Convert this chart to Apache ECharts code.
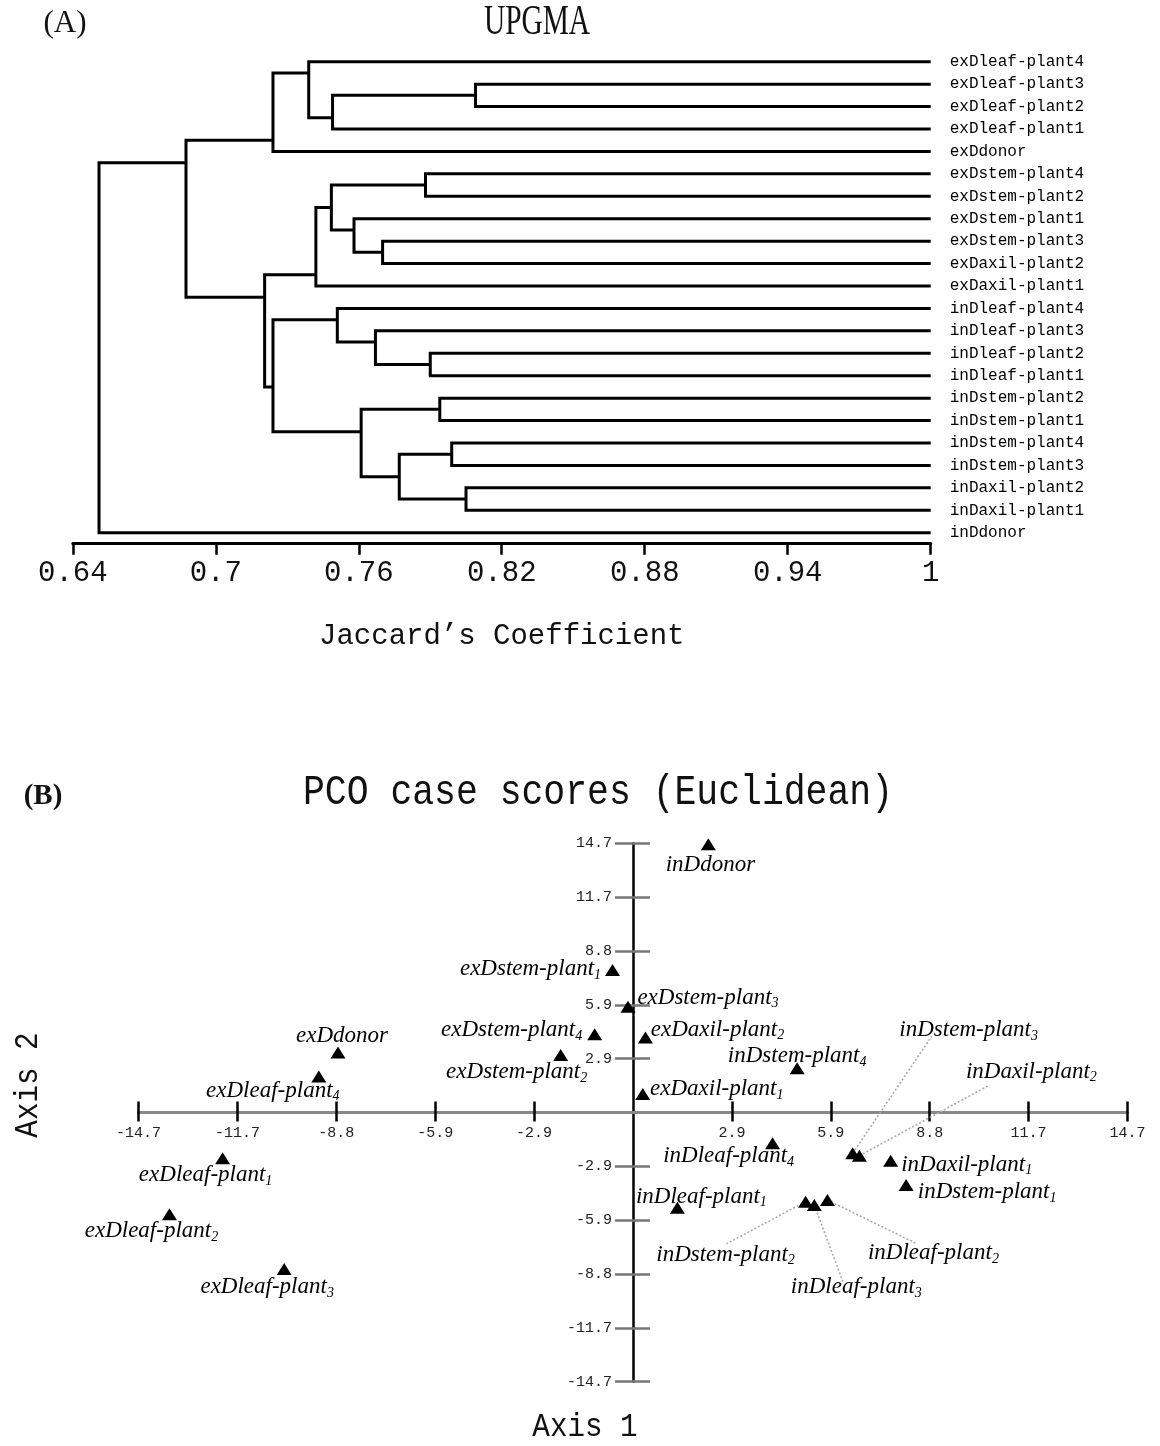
<!DOCTYPE html>
<html><head><meta charset="utf-8">
<script src="https://cdn.jsdelivr.net/npm/echarts@6/dist/echarts.min.js"></script>
<style>html,body{margin:0;padding:0;background:#fff}#c{width:1160px;height:1446px}</style>
</head><body><div id="c"></div>
<script>
// ---------------- DATA ----------------
// (A) UPGMA dendrogram: leaves in display order
const leafNames = [
  'exDleaf-plant4','exDleaf-plant3','exDleaf-plant2','exDleaf-plant1','exDdonor',
  'exDstem-plant4','exDstem-plant2','exDstem-plant1','exDstem-plant3','exDaxil-plant2',
  'exDaxil-plant1','inDleaf-plant4','inDleaf-plant3','inDleaf-plant2','inDleaf-plant1',
  'inDstem-plant2','inDstem-plant1','inDstem-plant4','inDstem-plant3','inDaxil-plant2',
  'inDaxil-plant1','inDdonor'
];
// merges: [childA, childB, Jaccard similarity]; node ids 0-21 are leaves, 22+ are merges in order
const merges = [
  [1, 2, 0.809],   // 22
  [19, 20, 0.805], // 23
  [17, 18, 0.799], // 24
  [15, 16, 0.794], // 25
  [13, 14, 0.790], // 26
  [5, 6, 0.788],   // 27
  [24, 23, 0.777], // 28
  [8, 9, 0.770],   // 29
  [12, 26, 0.767], // 30
  [25, 28, 0.761], // 31
  [7, 29, 0.758],  // 32
  [11, 30, 0.751], // 33
  [22, 3, 0.749],  // 34
  [27, 32, 0.7485],// 35
  [35, 10, 0.742], // 36
  [0, 34, 0.739],  // 37
  [37, 4, 0.724],  // 38
  [33, 31, 0.724], // 39
  [36, 39, 0.7205],// 40
  [38, 40, 0.6875],// 41
  [41, 21, 0.651]  // 42
];
const jaccardTicks = [0.64, 0.70, 0.76, 0.82, 0.88, 0.94, 1.00];
const jaccardTickLabels = ['0.64', '0.7', '0.76', '0.82', '0.88', '0.94', '1'];

// (B) PCO case scores
const pcoNames = [
  'inDdonor','exDstem-plant1','exDstem-plant3','exDstem-plant4','exDaxil-plant2',
  'exDstem-plant2','exDdonor','exDleaf-plant4','exDaxil-plant1','inDstem-plant4',
  'inDstem-plant3','inDaxil-plant2','inDleaf-plant4','inDaxil-plant1','inDstem-plant1',
  'inDleaf-plant1','inDstem-plant2','inDleaf-plant3','inDleaf-plant2','exDleaf-plant1',
  'exDleaf-plant2','exDleaf-plant3'
];
const axis1Scores = [2.24, -0.61, -0.15, -1.14, 0.37, -2.15, -8.77, -9.34, 0.29, 4.88,
  6.53, 6.73, 4.15, 7.66, 8.12, 1.32, 5.13, 5.39, 5.78, -12.2, -13.78, -10.37];
const axis2Scores = [14.65, 7.78, 5.78, 4.27, 4.09, 3.14, 3.28, 1.96, 1.01, 2.41,
  -2.23, -2.36, -1.68, -2.63, -3.96, -5.20, -4.87, -5.05, -4.78, -2.50, -5.56, -8.55];
const pcoTicks = [-14.7, -11.76, -8.82, -5.88, -2.94, 2.94, 5.88, 8.82, 11.76, 14.7];
const pcoTickLabels = ['-14.7','-11.7','-8.8','-5.9','-2.9','2.9','5.9','8.8','11.7','14.7'];

// ---------------- STYLE CONFIG (label placement, px) ----------------
const labelOffsets = {
  'inDdonor':[2,21],'exDstem-plant1':[-82,-1],'exDstem-plant3':[80,-9],'exDstem-plant4':[-83,-4],
  'exDaxil-plant2':[72,-8],'exDstem-plant2':[-44,17],'exDdonor':[4,-16],'exDleaf-plant4':[-46,14],
  'exDaxil-plant1':[74,-5],'inDstem-plant4':[0,-12],'inDstem-plant3':[116,-123],'inDaxil-plant2':[172,-84],
  'inDleaf-plant4':[-44,13],'inDaxil-plant1':[76,4],'inDstem-plant1':[81,7],'inDleaf-plant1':[24,-11],
  'inDstem-plant2':[-80,53],'inDleaf-plant3':[42,82],'inDleaf-plant2':[106,53],'exDleaf-plant1':[-17,17],
  'exDleaf-plant2':[-18,17],'exDleaf-plant3':[-17,18]
};
const leaderEnds = {
  'inDstem-plant3':[79,-117],'inDaxil-plant2':[129,-70],'inDstem-plant2':[-79,42],
  'inDleaf-plant3':[29,78],'inDleaf-plant2':[88,43]
};

// ---------------- TREE LAYOUT ----------------
const nLeaf = leafNames.length;
const nodeX = [], nodeRow = [], firstLeaf = [], lastLeaf = [];
for (let i = 0; i < nLeaf; i++) { nodeX[i] = 1; nodeRow[i] = i; firstLeaf[i] = i; lastLeaf[i] = i; }
merges.forEach((m, k) => {
  const id = nLeaf + k, a = m[0], b = m[1];
  nodeX[id] = m[2];
  firstLeaf[id] = Math.min(firstLeaf[a], firstLeaf[b]);
  lastLeaf[id] = Math.max(lastLeaf[a], lastLeaf[b]);
  const top = firstLeaf[a] < firstLeaf[b] ? a : b;
  const bot = top === a ? b : a;
  nodeRow[id] = (lastLeaf[top] + firstLeaf[bot]) / 2;
});

const MONO = 'Liberation Mono';
const SERIF = 'Liberation Serif';
function pcoLabel(v) {
  const i = pcoTicks.findIndex(t => Math.abs(t - v) < 1e-6);
  return i >= 0 ? pcoTickLabels[i] : '';
}
function jacLabel(v) {
  const i = jaccardTicks.findIndex(t => Math.abs(t - v) < 1e-6);
  return i >= 0 ? jaccardTickLabels[i] : '';
}

// PCO grid geometry; axes cross at the origin (placed with offsets)
const PCO_GRID = {left: 138.5, right: 32.5, top: 843.3, height: 538.4};
const PCO_MIN = -14.7, PCO_MAX = 14.7;
const pcoW = 1160 - PCO_GRID.left - PCO_GRID.right;
const xZeroFromBottom = PCO_GRID.height * (0 - PCO_MIN) / (PCO_MAX - PCO_MIN);
const xZeroFromTop = PCO_GRID.height - xZeroFromBottom;
const yZeroFromLeft = pcoW * (0 - PCO_MIN) / (PCO_MAX - PCO_MIN);
const yZeroFromRight = pcoW - yZeroFromLeft;

const chart = echarts.init(document.getElementById('c'), null, {renderer: 'canvas'});
const option = {
  backgroundColor: '#fff',
  animation: false,
  grid: [
    {left: 72.8, right: 229.3, top: 61.7, height: 471, containLabel: false, outerBoundsMode: 'none'},
    Object.assign({containLabel: false, outerBoundsMode: 'none'}, PCO_GRID)
  ],
  xAxis: [
    { gridIndex: 0, type: 'value', min: 0.64, max: 1, position: 'bottom', offset: 11,
      axisLine: {show: true, onZero: false, lineStyle: {color: '#000', width: 3}},
      axisTick: {show: true, customValues: jaccardTicks, length: 11, inside: false, lineStyle: {color: '#000', width: 2.5}},
      axisLabel: {customValues: jaccardTicks, formatter: jacLabel, margin: 15, color: '#111', fontFamily: MONO, fontSize: 29},
      splitLine: {show: false},
      name: 'Jaccard\u2019s Coefficient', nameLocation: 'middle', nameGap: 78, nameMoveOverlap: false,
      nameTextStyle: {color: '#111', fontFamily: MONO, fontSize: 29}
    },
    { gridIndex: 1, type: 'value', min: PCO_MIN, max: PCO_MAX, position: 'bottom', offset: -xZeroFromBottom,
      axisLine: {show: true, onZero: false, lineStyle: {color: '#888', width: 3}},
      axisTick: {show: true, customValues: pcoTicks, length: 9, inside: false, lineStyle: {color: '#000', width: 2.5}},
      axisLabel: {customValues: pcoTicks, formatter: pcoLabel, margin: 13, color: '#222', fontFamily: MONO, fontSize: 15},
      splitLine: {show: false}
    },
    { gridIndex: 1, type: 'value', min: PCO_MIN, max: PCO_MAX, position: 'top', offset: -xZeroFromTop,
      axisLine: {show: false, onZero: false},
      axisTick: {show: true, customValues: pcoTicks, length: 11, inside: false, lineStyle: {color: '#000', width: 2.5}},
      axisLabel: {show: false}, splitLine: {show: false}
    }
  ],
  yAxis: [
    { gridIndex: 0, type: 'value', min: 0, max: 21, inverse: true, show: false },
    { gridIndex: 0, type: 'category', data: leafNames, inverse: true, boundaryGap: false, position: 'right',
      axisLine: {show: false}, axisTick: {show: false},
      axisLabel: {margin: 19, color: '#000', fontFamily: MONO, fontSize: 16, interval: 0}
    },
    { gridIndex: 1, type: 'value', min: PCO_MIN, max: PCO_MAX, position: 'left', offset: -yZeroFromLeft,
      axisLine: {show: true, onZero: false, lineStyle: {color: '#000', width: 2.5}},
      axisTick: {show: true, customValues: pcoTicks, length: 18, inside: false, lineStyle: {color: '#777', width: 2.5}},
      axisLabel: {customValues: pcoTicks, formatter: pcoLabel, margin: 21, color: '#222', fontFamily: MONO, fontSize: 15},
      splitLine: {show: false}
    },
    { gridIndex: 1, type: 'value', min: PCO_MIN, max: PCO_MAX, position: 'right', offset: -yZeroFromRight,
      axisLine: {show: false, onZero: false},
      axisTick: {show: true, customValues: pcoTicks, length: 17, inside: false, lineStyle: {color: '#777', width: 2.5}},
      axisLabel: {show: false}, splitLine: {show: false}
    }
  ],
  series: [
    { type: 'custom', name: 'UPGMA', xAxisIndex: 0, yAxisIndex: 0, clip: false,
      data: merges.map((m, k) => [m[2], nodeRow[nLeaf + k]]),
      renderItem: (params, api) => {
        const m = merges[params.dataIndex], a = m[0], b = m[1], h = m[2];
        const pts = [
          api.coord([nodeX[a], nodeRow[a]]), api.coord([h, nodeRow[a]]),
          api.coord([h, nodeRow[b]]), api.coord([nodeX[b], nodeRow[b]])
        ];
        return {type: 'polyline', shape: {points: pts},
          style: {stroke: '#000', lineWidth: 3, fill: null, lineJoin: 'miter', lineCap: 'butt'}};
      }
    },
    { type: 'custom', name: 'leaders', xAxisIndex: 1, yAxisIndex: 2, z: 1, clip: false,
      data: Object.keys(leaderEnds).map(n => { const i = pcoNames.indexOf(n); return {name: n, value: [axis1Scores[i], axis2Scores[i]]}; }),
      renderItem: (params, api) => {
        const p = api.coord([api.value(0), api.value(1)]);
        const e = leaderEnds[Object.keys(leaderEnds)[params.dataIndex]];
        return {type: 'line', shape: {x1: p[0], y1: p[1], x2: p[0] + e[0], y2: p[1] + e[1]},
          style: {stroke: '#aaa', lineWidth: 1.6, lineDash: [2, 2]}};
      }
    },
    { type: 'scatter', name: 'PCO', xAxisIndex: 1, yAxisIndex: 2, z: 3,
      symbol: 'triangle', symbolSize: [15, 12],
      itemStyle: {color: '#000', opacity: 1},
      data: pcoNames.map((n, i) => ({name: n, value: [axis1Scores[i], axis2Scores[i]], label: {offset: labelOffsets[n]}})),
      label: {
        show: true, position: 'inside', align: 'center', verticalAlign: 'middle',
        color: '#000', textBorderWidth: 0, textBorderColor: 'transparent', opacity: 1,
        formatter: p => { const m = p.name.match(/^(.*?)(\d)$/); return m ? '{n|' + m[1] + '}{s|' + m[2] + '}' : '{n|' + p.name + '}'; },
        rich: {
          n: {fontFamily: SERIF, fontStyle: 'italic', fontSize: 23, color: '#000', lineHeight: 26, textBorderWidth: 0},
          s: {fontFamily: SERIF, fontStyle: 'italic', fontSize: 14, color: '#000', lineHeight: 14, verticalAlign: 'bottom', textBorderWidth: 0}
        }
      },
      emphasis: {disabled: true}
    }
  ],
  graphic: [
    {type: 'text', x: 65, y: 24, style: {text: '(A)', fontFamily: SERIF, fontSize: 31, fill: '#111', align: 'center', verticalAlign: 'middle'}},
    {type: 'text', x: 537, y: 23, scaleX: 0.7, style: {text: 'UPGMA', fontFamily: SERIF, fontSize: 42, fill: '#111', align: 'center', verticalAlign: 'middle'}},
    {type: 'text', x: 43, y: 797, style: {text: '(B)', fontFamily: SERIF, fontSize: 29, fontWeight: 'bold', fill: '#111', align: 'center', verticalAlign: 'middle'}},
    {type: 'text', x: 598, y: 793, scaleX: 0.867, style: {text: 'PCO case scores (Euclidean)', fontFamily: MONO, fontSize: 42, fill: '#111', align: 'center', verticalAlign: 'middle'}},
    {type: 'text', x: 28, y: 1085, rotation: Math.PI / 2, scaleX: 0.86, style: {text: 'Axis 2', fontFamily: MONO, fontSize: 34, fill: '#111', align: 'center', verticalAlign: 'middle'}},
    {type: 'text', x: 585, y: 1427, scaleX: 0.86, style: {text: 'Axis 1', fontFamily: MONO, fontSize: 34, fill: '#111', align: 'center', verticalAlign: 'middle'}}
  ]
};
chart.setOption(option);
</script>
</body></html>
